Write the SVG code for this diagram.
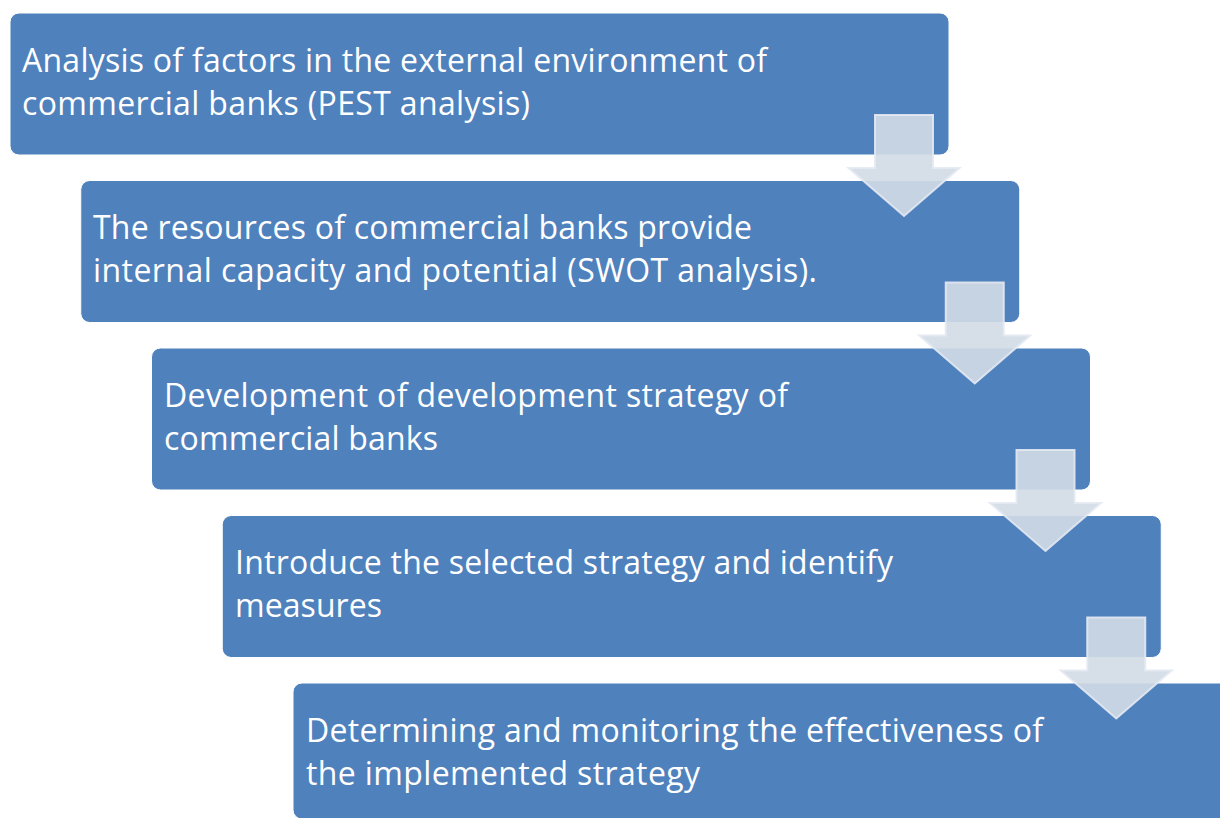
<svg xmlns="http://www.w3.org/2000/svg" width="1220" height="818" viewBox="0 0 1220 818">
  <style>
    .step { fill: #4f81bd; stroke: #ffffff; stroke-width: 1; }
    .label { fill: #ffffff; font-family: "Open Sans", "Noto Sans", "Liberation Sans", sans-serif; font-size: 32px; }
    .flow { fill: rgb(210,219,230); fill-opacity: 0.9; stroke: #e4e9f2; stroke-opacity: 0.9; stroke-width: 2; stroke-linejoin: miter; }
  </style>
  <defs>
    <!-- down arrow, origin at top centre of the shaft -->
    <path id="down" d="M -29 0 H 29 V 53 H 55.5 L 0 101 L -55.5 53 H -29 Z"/>
  </defs>
  <rect width="1220" height="818" fill="#ffffff"/>

  <g id="step1">
    <rect class="step" x="10" y="13" width="939" height="142" rx="9"/>
    <text class="label" lengthAdjust="spacing">
      <tspan x="22" y="71.5" textLength="745">Analysis of factors in the external environment of</tspan>
      <tspan x="22" y="114.5" textLength="508">commercial banks (PEST analysis)</tspan>
    </text>
  </g>

  <g id="step2">
    <rect class="step" x="80.75" y="180.5" width="939" height="142" rx="9"/>
    <text class="label" lengthAdjust="spacing">
      <tspan x="93" y="239" textLength="659">The resources of commercial banks provide</tspan>
      <tspan x="93" y="282" textLength="724">internal capacity and potential (SWOT analysis).</tspan>
    </text>
  </g>

  <g id="step3">
    <rect class="step" x="151.5" y="348" width="939" height="142" rx="9"/>
    <text class="label" lengthAdjust="spacing">
      <tspan x="164" y="406.5" textLength="624">Development of development strategy of</tspan>
      <tspan x="164" y="449.5" textLength="274">commercial banks</tspan>
    </text>
  </g>

  <g id="step4">
    <rect class="step" x="222.25" y="515.5" width="939" height="142" rx="9"/>
    <text class="label" lengthAdjust="spacing">
      <tspan x="235" y="574" textLength="658">Introduce the selected strategy and identify</tspan>
      <tspan x="235" y="617" textLength="147">measures</tspan>
    </text>
  </g>

  <g id="step5">
    <rect class="step" x="293" y="683" width="939" height="136" rx="9"/>
    <text class="label" lengthAdjust="spacing">
      <tspan x="306" y="741.5" textLength="737">Determining and monitoring the effectiveness of</tspan>
      <tspan x="306" y="784.5" textLength="394">the implemented strategy</tspan>
    </text>
  </g>

  <g id="connectors">
    <use href="#down" class="flow" x="904" y="115"/>
    <use href="#down" class="flow" x="974.75" y="282.5"/>
    <use href="#down" class="flow" x="1045.5" y="450"/>
    <use href="#down" class="flow" x="1116.25" y="617.5"/>
  </g>
</svg>
